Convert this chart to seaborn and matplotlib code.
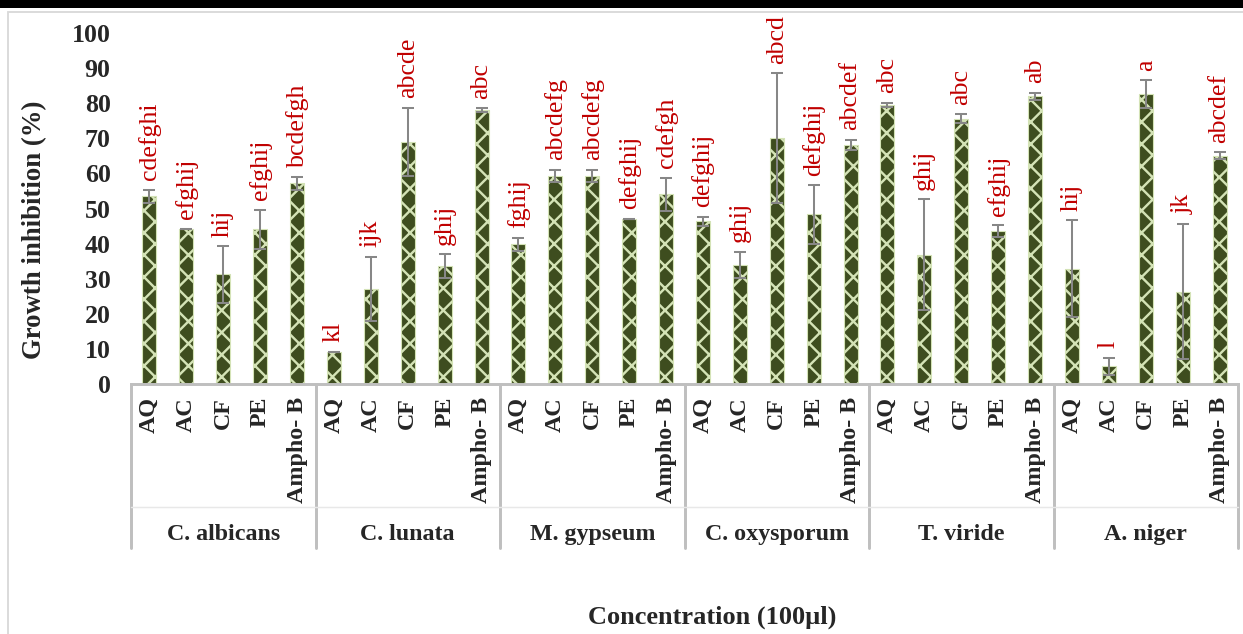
import numpy as np
import pandas as pd
import seaborn as sns
import matplotlib
matplotlib.use("Agg")
from matplotlib import pyplot as plt
from matplotlib.patches import Rectangle
from matplotlib.transforms import blended_transform_factory

# data
groups = ["C. albicans", "C. lunata", "M. gypseum", "C. oxysporum", "T. viride", "A. niger"]
treatments = ["AQ", "AC", "CF", "PE", "Ampho- B"]

c_albicans = [53.5, 44.2, 31.2, 44.1, 57.2]
c_lunata = [9.1, 27.0, 69.0, 33.5, 78.0]
m_gypseum = [39.8, 59.3, 59.3, 47.1, 54.0]
c_oxysporum = [46.3, 33.9, 70.0, 48.3, 68.1]
t_viride = [79.5, 36.8, 75.6, 43.5, 82.0]
a_niger = [32.8, 5.0, 82.5, 26.3, 65.0]

c_albicans_sd = [1.8, 0.0, 8.0, 5.6, 1.9]
c_lunata_sd = [0.0, 9.1, 9.7, 3.4, 0.5]
m_gypseum_sd = [1.9, 1.8, 1.8, 0.0, 4.7]
c_oxysporum_sd = [1.3, 3.8, 18.5, 8.3, 1.4]
t_viride_sd = [0.5, 15.8, 1.2, 1.7, 1.0]
a_niger_sd = [13.8, 2.5, 4.0, 19.3, 1.0]

c_albicans_let = ["cdefghi", "efghij", "hij", "efghij", "bcdefgh"]
c_lunata_let = ["kl", "ijk", "abcde", "ghij", "abc"]
m_gypseum_let = ["fghij", "abcdefg", "abcdefg", "defghij", "cdefgh"]
c_oxysporum_let = ["defghij", "ghij", "abcd", "defghij", "abcdef"]
t_viride_let = ["abc", "ghij", "abc", "efghij", "ab"]
a_niger_let = ["hij", "l", "a", "jk", "abcdef"]

values = [c_albicans, c_lunata, m_gypseum, c_oxysporum, t_viride, a_niger]
sds = [c_albicans_sd, c_lunata_sd, m_gypseum_sd, c_oxysporum_sd, t_viride_sd, a_niger_sd]
letters = [c_albicans_let, c_lunata_let, m_gypseum_let, c_oxysporum_let, t_viride_let, a_niger_let]

rows = []
for g, vals, errs, lets in zip(groups, values, sds, letters):
    for t, v, e, l in zip(treatments, vals, errs, lets):
        rows.append({"group": g, "treatment": t, "value": v, "sd": e, "letter": l})
df = pd.DataFrame(rows)
df["key"] = df["group"] + "|" + df["treatment"]

sns.set_style("white")
plt.rcParams["font.family"] = ["Liberation Serif", "DejaVu Serif"]
plt.rcParams["hatch.linewidth"] = 1.3

DARK = "#3e4d1f"
LIGHT = "#d4e3b6"
GRAY = "#bfbfbf"

W, H, DPI = 1243, 634, 133
fig = plt.figure(figsize=(W / DPI, H / DPI), dpi=DPI)
ax = fig.add_axes([131 / W, 1 - 384 / H, (1238 - 131) / W, 351 / H])

sns.barplot(data=df, x="key", y="value", order=list(df["key"]), color=DARK,
            saturation=1, width=0.38, edgecolor=LIGHT, linewidth=0.6,
            hatch="xx", errorbar=None, ax=ax)
pos = np.arange(len(df))
ax.errorbar(pos, df["value"], yerr=df["sd"], fmt="none", ecolor="#878787",
            elinewidth=1.1, capsize=3.2, capthick=1.1, zorder=3)

# significance letters
for i, row in df.iterrows():
    ax.text(i, row["value"] + row["sd"] + 2.8, row["letter"], rotation=90,
            ha="center", va="bottom", color="#c00000", fontsize=14)

ax.set_xlim(-0.5, len(df) - 0.5)
ax.set_ylim(0, 100)
ax.set_yticks(range(0, 101, 10))
ax.set_yticklabels([str(v) for v in range(0, 101, 10)], fontsize=14, fontweight="bold")
ax.set_xticks(pos)
ax.set_xticklabels(list(df["treatment"]), rotation=90, fontsize=13, fontweight="bold")
ax.tick_params(axis="y", length=0, pad=11)
ax.tick_params(axis="x", length=0, pad=7)
for s in ["top", "right", "left"]:
    ax.spines[s].set_visible(False)
ax.spines["bottom"].set_color(GRAY)
ax.spines["bottom"].set_linewidth(1.6)

ax.set_xlabel("")
ax.set_ylabel("Growth inhibition (%)", fontsize=14.5, fontweight="bold")
ax.yaxis.set_label_coords(-0.076, 0.44)

# grouped category axis
trans = blended_transform_factory(ax.transData, ax.transAxes)
n = len(treatments)
for b in np.arange(-0.5, len(df), n):
    ax.plot([b, b], [0, -0.467], transform=trans, color=GRAY, lw=1.6, clip_on=False)
ax.plot([-0.5, len(df) - 0.5], [-0.35, -0.35], transform=trans, color="#e8e8e8",
        lw=0.8, clip_on=False)
for gi, g in enumerate(groups):
    ax.text(gi * n + (n - 1) / 2, -0.43, g, transform=trans, ha="center", va="center",
            fontsize=13, fontweight="bold")

fig.text(712 / W, 1 - 617 / H, "Concentration (100µl)", ha="center", va="center",
         fontsize=14.3, fontweight="bold")

# outer frame and top rule
fig.add_artist(Rectangle((8 / W, -0.1), 1.1, 1.1 - 12 / H, transform=fig.transFigure,
                         fill=False, edgecolor="#d9d9d9", lw=1))
fig.add_artist(Rectangle((0, 1 - 8 / H), 1, 8 / H, transform=fig.transFigure,
                         facecolor="black", edgecolor="none"))

fig.savefig("out.png", dpi=DPI)
